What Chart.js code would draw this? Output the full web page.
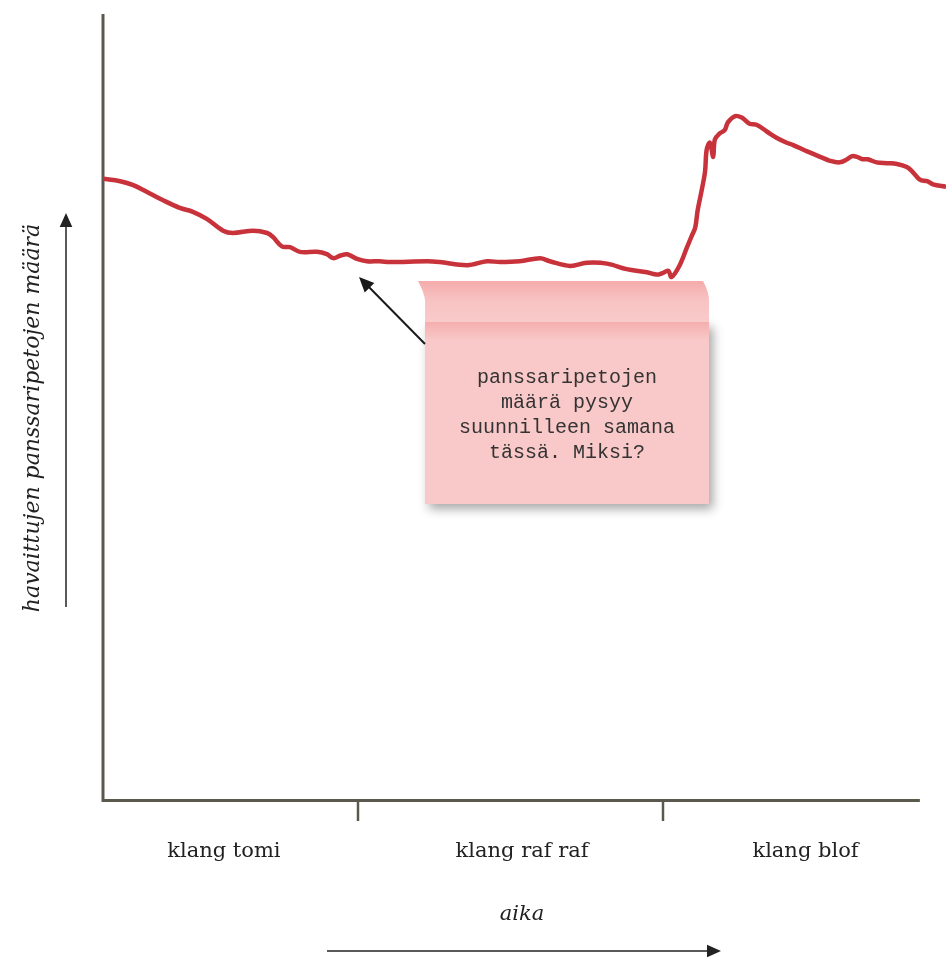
<!DOCTYPE html>
<html>
<head>
<meta charset="utf-8">
<script src="https://cdn.jsdelivr.net/npm/chart.js@4.4.1/dist/chart.umd.min.js"></script>
<style>
  html, body { margin: 0; padding: 0; background: #fff; }
  #wrap { width: 946px; height: 957px; position: relative; }
</style>
</head>
<body>
<div id="wrap"><canvas id="chart"></canvas></div>
<script>
// aika (0..100 = x-akselin pituus), viiva jatkuu hieman yli
const aika = [0, 2.1, 3.7, 5.8, 7.3, 9.4, 11.0, 12.7, 14.7, 15.9, 18.4, 20.1, 20.8, 21.9, 22.9, 24.1,
  26.2, 27.4, 28.2, 29.0, 29.9, 31.1, 32.3, 33.9, 35.1, 39.7, 41.2, 44.6, 47.0, 48.6, 51.0, 53.5,
  54.7, 57.2, 59.2, 61.7, 64.1, 66.6, 67.8, 68.5, 69.2, 69.6, 70.6, 71.5, 72.1, 72.5, 72.8, 73.3,
  73.7, 73.9, 74.3, 74.7, 74.9, 75.5, 76.1, 76.5, 77.4, 78.2, 78.9, 79.2, 80.0, 81.3, 82.5, 83.7,
  84.5, 86.2, 87.8, 89.0, 90.2, 91.1, 91.7, 92.3, 93.0, 93.6, 94.7, 96.0, 97.2, 98.4, 99.1, 100,
  100.9, 101.6, 103.2];

// havaittujen panssaripetojen maara
const maara = [79.0, 78.7, 78.2, 77.1, 76.3, 75.3, 74.8, 73.9, 72.4, 72.1, 72.4, 72.1, 71.6, 70.4, 70.3, 69.7,
  69.7, 69.4, 68.9, 69.2, 69.4, 68.8, 68.5, 68.5, 68.4, 68.5, 68.4, 68.0, 68.5, 68.4, 68.5, 68.9,
  68.5, 67.9, 68.3, 68.2, 67.5, 67.1, 66.8, 67.0, 67.3, 66.5, 68.0, 70.3, 71.8, 72.8, 75.0, 77.6,
  79.9, 82.7, 83.6, 81.8, 84.0, 84.8, 85.2, 86.2, 87.0, 86.8, 86.2, 86.0, 85.9, 85.0, 84.2, 83.6,
  83.3, 82.5, 81.8, 81.3, 81.1, 81.5, 81.9, 81.8, 81.5, 81.5, 81.1, 81.0, 80.9, 80.5, 79.9, 78.9,
  78.7, 78.3, 78.0];

const jaksot = ['klang tomi', 'klang raf raf', 'klang blof'];
const jaksonKeskikohdat = [14.8, 51.3, 86.0];
const jaksonRajat = [31.2, 68.5];
const akselinLoppu = 100;

const nuottiTeksti = ['panssaripetojen', 'määrä pysyy', 'suunnilleen samana', 'tässä. Miksi?'];

const akseliVari = '#5b584c';

function nuoli(ctx, x1, y1, x2, y2, koko) {
  const a = Math.atan2(y2 - y1, x2 - x1);
  ctx.beginPath();
  ctx.moveTo(x1, y1);
  ctx.lineTo(x2 - Math.cos(a) * koko * 0.8, y2 - Math.sin(a) * koko * 0.8);
  ctx.stroke();
  ctx.beginPath();
  ctx.moveTo(x2, y2);
  ctx.lineTo(x2 - koko * Math.cos(a) + koko * 0.45 * Math.sin(a), y2 - koko * Math.sin(a) - koko * 0.45 * Math.cos(a));
  ctx.lineTo(x2 - koko * Math.cos(a) - koko * 0.45 * Math.sin(a), y2 - koko * Math.sin(a) + koko * 0.45 * Math.cos(a));
  ctx.closePath();
  ctx.fill();
}

// piirtaa akselit, jaksojen nimet, nuolet ja muistilapun
const koristeet = {
  id: 'koristeet',
  beforeDatasetsDraw(chart) {
    const { ctx, chartArea: ca, scales: { x } } = chart;
    const oikea = x.getPixelForValue(akselinLoppu);
    ctx.save();
    ctx.strokeStyle = akseliVari;
    ctx.lineWidth = 3;
    ctx.beginPath();
    ctx.moveTo(ca.left, ca.top);
    ctx.lineTo(ca.left, ca.bottom + 1.5);
    ctx.lineTo(oikea, ca.bottom + 1.5);
    ctx.stroke();
    ctx.lineWidth = 2.5;
    jaksonRajat.forEach(v => {
      const px = Math.round(x.getPixelForValue(v));
      ctx.beginPath();
      ctx.moveTo(px, ca.bottom + 1.5);
      ctx.lineTo(px, ca.bottom + 22);
      ctx.stroke();
    });
    ctx.fillStyle = '#222';
    ctx.font = '21px "DejaVu Serif"';
    ctx.textAlign = 'center';
    ctx.textBaseline = 'middle';
    jaksot.forEach((t, i) => {
      ctx.fillText(t, x.getPixelForValue(jaksonKeskikohdat[i]), 852);
    });
    // x-akselin otsikko ja nuoli
    ctx.font = 'italic 21px "DejaVu Serif"';
    ctx.fillText('aika', 522, 915);
    ctx.strokeStyle = '#222';
    ctx.lineWidth = 1.5;
    nuoli(ctx, 327, 951, 721, 951, 14);
    // y-akselin otsikko ja nuoli
    ctx.save();
    ctx.translate(33, 418);
    ctx.rotate(-Math.PI / 2);
    ctx.font = 'italic 22px "DejaVu Serif"';
    ctx.fillText('havaittujen panssaripetojen määrä', 0, 0);
    ctx.restore();
    nuoli(ctx, 66, 607, 66, 213, 14);
    ctx.restore();
  },
  afterDatasetsDraw(chart) {
    const { ctx } = chart;
    ctx.save();
    // lapun runko varjolla
    ctx.shadowColor = 'rgba(0,0,0,0.35)';
    ctx.shadowBlur = 10;
    ctx.shadowOffsetX = 4;
    ctx.shadowOffsetY = 5;
    ctx.fillStyle = '#f9c8c8';
    ctx.fillRect(425, 322, 284, 182);
    ctx.shadowColor = 'transparent';
    const g = ctx.createLinearGradient(0, 322, 0, 340);
    g.addColorStop(0, '#f5aeae');
    g.addColorStop(1, '#f9c8c8');
    ctx.fillStyle = g;
    ctx.fillRect(425, 322, 284, 18);
    // taitettu ylaosa
    const g2 = ctx.createLinearGradient(0, 281, 0, 322);
    g2.addColorStop(0, '#f5abab');
    g2.addColorStop(0.45, '#f8c2c2');
    g2.addColorStop(1, '#f9caca');
    ctx.fillStyle = g2;
    ctx.beginPath();
    ctx.moveTo(418, 281);
    ctx.lineTo(703, 281);
    ctx.quadraticCurveTo(709, 292, 709, 300);
    ctx.lineTo(709, 322);
    ctx.lineTo(425, 322);
    ctx.lineTo(425, 300);
    ctx.quadraticCurveTo(424, 292, 418, 281);
    ctx.closePath();
    ctx.fill();
    ctx.fillStyle = '#333';
    ctx.font = '20px "Liberation Mono"';
    ctx.textAlign = 'center';
    ctx.textBaseline = 'middle';
    nuottiTeksti.forEach((r, i) => ctx.fillText(r, 567, 378 + i * 24.8));
    // nuoli lapusta viivaan
    ctx.strokeStyle = '#1a1a1a';
    ctx.fillStyle = '#1a1a1a';
    ctx.lineWidth = 2;
    nuoli(ctx, 425, 344, 359, 277, 15);
    ctx.restore();
  }
};

const ctx = document.getElementById('chart').getContext('2d');
new Chart(ctx, {
  type: 'line',
  data: {
    datasets: [{
      data: aika.map((a, i) => ({ x: a, y: maara[i] })),
      borderColor: '#c8323a',
      borderWidth: 4.5,
      pointRadius: 0,
      tension: 0.35,
      fill: false
    }]
  },
  options: {
    responsive: true,
    maintainAspectRatio: false,
    animation: false,
    layout: { padding: { left: 103, right: 0, top: 14, bottom: 158 } },
    plugins: { legend: { display: false }, tooltip: { enabled: false } },
    scales: {
      x: { type: 'linear', min: 0, max: 103.2, display: false },
      y: { min: 0, max: 100, display: false }
    }
  },
  plugins: [koristeet]
});
</script>
</body>
</html>
